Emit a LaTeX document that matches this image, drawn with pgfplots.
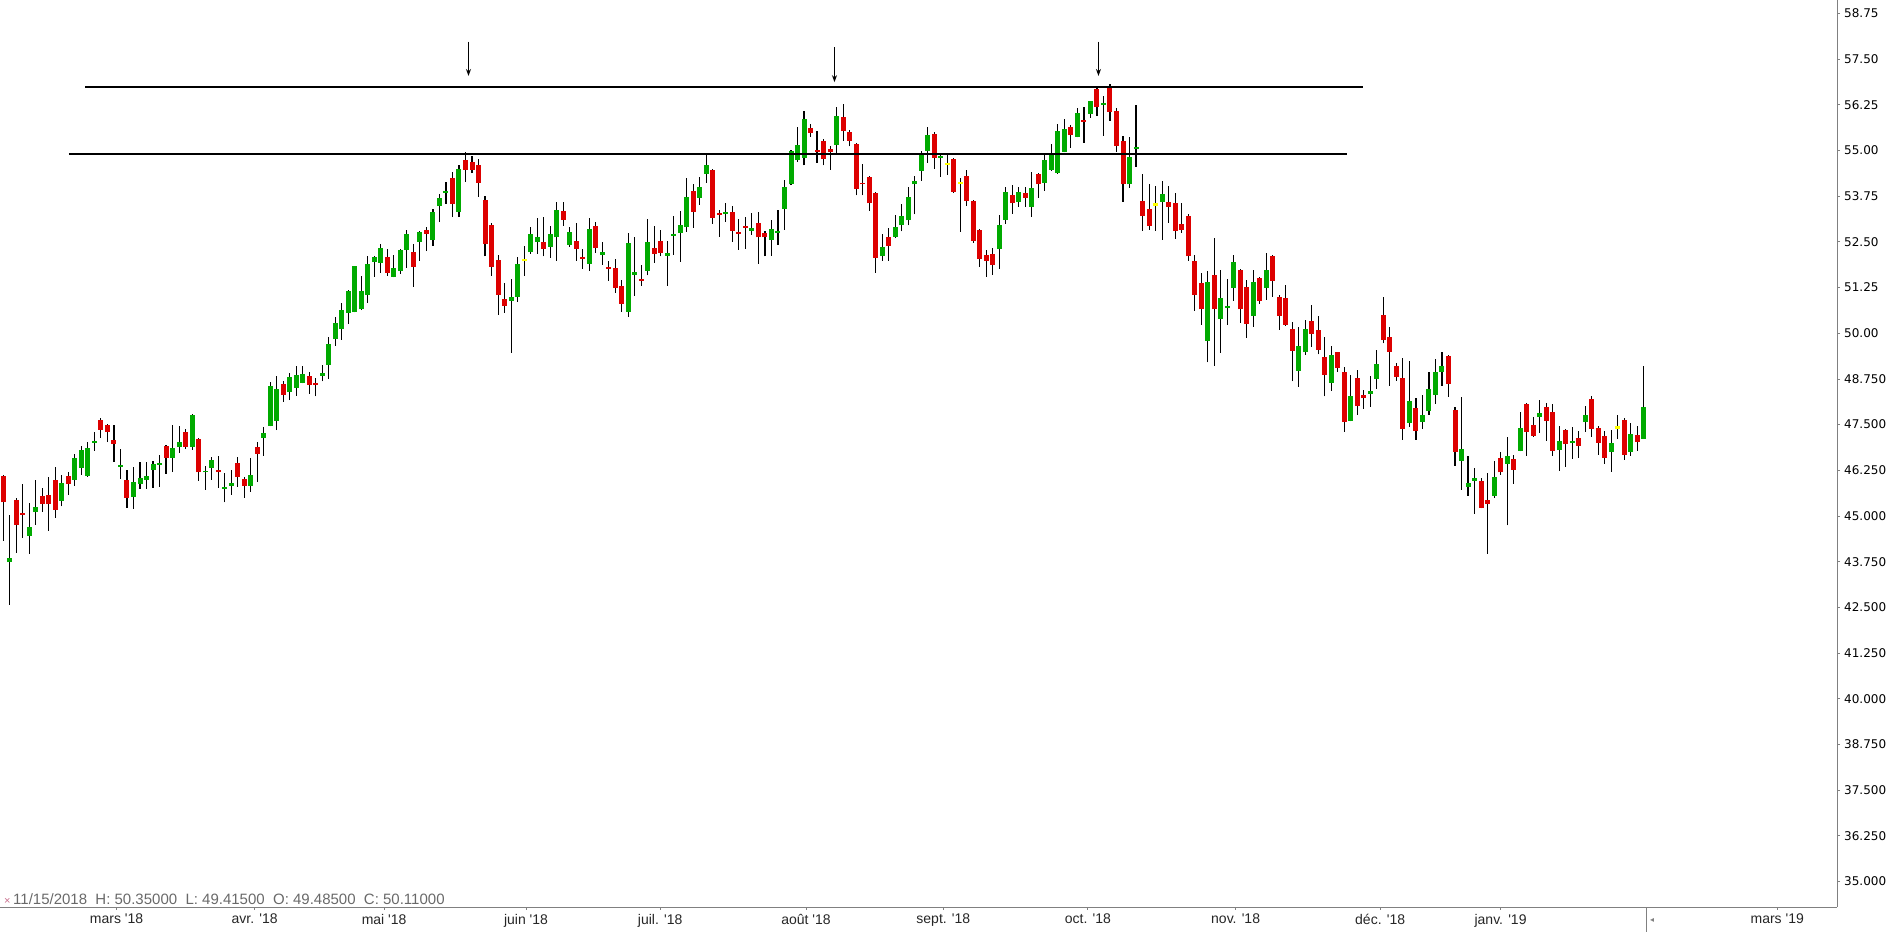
\documentclass[border=0pt]{standalone}
\usepackage{pgfplots}
\pgfplotsset{compat=1.18}
\usepackage{pgfplotstable}
\usepackage{fontspec}
\usetikzlibrary{arrows.meta}
\newfontfamily\dejavu{DejaVu Sans}
\newfontfamily\lib{Liberation Sans}
\definecolor{cgreen}{RGB}{0,170,0}
\definecolor{cred}{RGB}{221,0,0}
\definecolor{cyellow}{RGB}{255,255,0}
\definecolor{axgrey}{RGB}{128,128,128}
\definecolor{hovergrey}{RGB}{105,105,105}
\definecolor{xpink}{RGB}{200,110,140}

% k: 1 = up (green), -1 = down (red), 0 = doji (yellow)
\pgfplotstableread{
i o h l c k
0 46.09 46.12 44.32 45.37 -1
1 43.74 45.03 42.57 43.85 1
2 45.44 45.49 43.99 44.76 -1
3 45.08 45.87 44.41 45.03 -1
4 44.46 45.36 43.97 44.70 1
5 45.12 45.98 44.76 45.25 1
6 45.55 45.77 45.12 45.34 -1
7 45.57 46.06 44.60 45.34 -1
8 45.98 46.34 44.95 45.17 -1
9 45.42 46.12 45.26 45.90 1
10 46.09 46.20 45.58 45.88 -1
11 45.99 46.70 45.83 46.59 1
12 46.32 46.92 46.13 46.81 1
13 46.09 47.02 46.08 46.86 1
14 47.01 47.30 46.79 47.06 1
15 47.63 47.68 47.13 47.36 -1
16 47.49 47.52 47.02 47.30 -1
17 47.08 47.49 46.49 46.98 -1
18 46.34 46.83 46.02 46.39 1
19 45.98 46.26 45.23 45.50 -1
20 45.52 46.34 45.20 45.93 1
21 45.88 46.48 45.75 46.04 1
22 45.99 46.48 45.75 46.09 1
23 46.26 46.50 45.77 46.42 1
24 46.40 46.67 45.80 46.45 1
25 46.92 46.95 46.15 46.59 -1
26 46.59 47.49 46.20 46.86 1
27 46.89 47.46 46.73 47.02 1
28 47.30 47.38 46.83 46.89 -1
29 46.89 47.79 46.81 47.76 1
30 47.11 47.13 45.97 46.19 -1
31 46.19 46.37 45.72 46.23 1
32 46.31 46.61 45.99 46.53 1
33 46.26 46.64 45.77 46.20 -1
34 45.75 46.18 45.37 45.79 1
35 45.83 46.26 45.58 45.90 1
36 46.45 46.61 45.80 46.08 -1
37 46.01 46.07 45.50 45.83 -1
38 45.83 46.59 45.67 46.12 1
39 46.89 47.02 45.94 46.70 -1
40 47.14 47.44 46.65 47.27 1
41 47.47 48.67 47.45 48.56 1
42 47.61 48.83 47.35 48.48 1
43 48.61 48.70 48.12 48.32 -1
44 48.40 48.91 48.17 48.80 1
45 48.51 49.10 48.29 48.86 1
46 48.65 49.10 48.63 48.89 1
47 48.83 48.94 48.35 48.59 -1
48 48.64 48.77 48.27 48.59 -1
49 48.84 49.13 48.68 48.91 1
50 49.14 49.90 48.76 49.71 1
51 49.84 50.44 49.66 50.28 1
52 50.12 50.83 49.82 50.64 1
53 50.55 51.18 50.25 51.16 1
54 50.59 51.84 50.57 51.84 1
55 50.65 51.57 50.63 51.16 1
56 51.06 52.11 50.84 51.89 1
57 51.95 52.11 51.54 52.09 1
58 51.93 52.44 51.65 52.33 1
59 52.09 52.31 51.57 51.66 -1
60 51.55 52.14 51.53 51.79 1
61 51.71 52.30 51.63 52.28 1
62 52.28 52.83 51.79 52.72 1
63 52.22 52.44 51.27 51.82 -1
64 52.51 52.80 51.99 52.77 1
65 52.83 52.91 52.25 52.72 -1
66 52.55 53.40 52.40 53.32 1
67 53.48 53.81 53.04 53.70 1
68 53.84 54.14 53.54 53.89 1
69 54.25 54.41 53.18 53.54 -1
70 53.32 54.60 53.18 54.49 1
71 54.74 54.96 54.14 54.47 -1
72 54.69 54.85 54.38 54.47 -1
73 54.60 54.77 53.73 54.11 -1
74 53.65 53.76 52.10 52.45 -1
75 52.96 53.02 51.57 51.82 -1
76 52.00 52.14 50.51 51.06 -1
77 50.94 51.37 50.56 50.75 -1
78 50.89 51.48 49.47 50.99 1
79 51.00 52.09 50.86 51.89 1
80 52.00 52.39 51.57 52.00 0
81 52.23 52.91 52.18 52.72 1
82 52.51 53.15 52.18 52.63 1
83 52.50 53.18 52.10 52.31 -1
84 52.37 52.93 52.07 52.72 1
85 52.62 53.59 51.99 53.37 1
86 53.34 53.59 52.94 53.11 -1
87 52.42 52.91 52.37 52.77 1
88 52.52 53.02 51.99 52.31 -1
89 52.09 52.30 51.77 52.04 -1
90 51.90 53.15 51.71 52.85 1
91 52.93 53.04 52.20 52.34 -1
92 52.15 52.50 51.88 52.22 1
93 51.81 51.98 51.44 51.77 -1
94 51.79 52.03 51.11 51.25 -1
95 51.30 51.45 50.59 50.81 -1
96 50.59 52.74 50.45 52.47 1
97 51.60 52.63 51.03 51.68 1
98 51.48 51.87 51.30 51.44 -1
99 51.71 53.13 51.58 52.50 1
100 52.33 52.93 51.93 52.18 -1
101 52.52 52.82 52.10 52.20 -1
102 52.12 52.52 51.30 52.20 1
103 52.67 53.21 52.15 52.72 1
104 52.75 53.34 51.96 52.96 1
105 52.92 54.25 52.78 53.73 1
106 53.89 54.08 52.89 53.33 -1
107 53.71 54.28 53.52 54.00 1
108 54.37 54.89 54.12 54.60 1
109 54.47 54.49 53.00 53.16 -1
110 53.29 53.37 52.64 53.24 -1
111 53.27 53.56 53.05 53.32 1
112 53.32 53.48 52.50 52.81 -1
113 52.77 53.13 52.29 52.72 -1
114 52.93 53.18 52.31 52.89 -1
115 52.81 53.29 52.70 52.88 1
116 53.02 53.32 51.90 52.62 -1
117 52.74 52.80 52.10 52.62 -1
118 52.56 53.10 52.12 52.85 1
119 52.75 53.37 52.42 52.80 1
120 53.41 54.19 52.83 54.00 1
121 54.07 55.00 54.05 54.99 1
122 54.75 55.64 54.69 55.15 1
123 54.80 56.08 54.59 55.86 1
124 55.62 55.73 55.38 55.49 -1
125 55.00 55.53 54.67 54.96 -1
126 55.26 55.32 54.59 54.78 -1
127 55.04 55.12 54.48 54.97 -1
128 55.16 56.19 54.91 55.94 1
129 55.92 56.27 55.27 55.52 -1
130 55.51 55.56 55.11 55.27 -1
131 55.18 55.20 53.77 53.96 -1
132 54.11 54.63 53.77 54.07 -1
133 54.28 54.30 53.35 53.55 -1
134 53.84 53.86 51.66 52.07 -1
135 52.10 52.71 51.99 52.35 1
136 52.62 52.87 51.99 52.40 -1
137 52.64 53.24 52.60 52.91 1
138 52.95 53.54 52.79 53.21 1
139 53.09 54.00 52.95 53.73 1
140 54.07 54.30 53.25 54.17 1
141 54.45 54.99 54.17 54.90 1
142 54.99 55.64 54.67 55.42 1
143 55.45 55.51 54.50 54.80 -1
144 54.80 54.91 54.28 54.85 1
145 54.64 54.91 54.34 54.64 0
146 54.77 54.79 53.85 53.87 -1
147 54.11 54.25 52.78 54.11 0
148 54.30 54.47 53.49 53.62 -1
149 53.62 53.64 52.48 52.53 -1
150 52.83 52.85 51.82 52.04 -1
151 52.14 52.29 51.55 51.99 -1
152 52.16 52.32 51.60 51.88 -1
153 52.31 53.24 51.77 52.95 1
154 53.11 54.00 53.00 53.86 1
155 53.78 54.06 53.27 53.55 -1
156 53.60 54.00 53.46 53.86 1
157 53.84 54.00 53.46 53.71 -1
158 53.46 54.41 53.19 53.97 1
159 54.36 54.38 53.71 54.07 -1
160 54.12 54.89 53.90 54.74 1
161 54.48 55.18 54.45 54.88 1
162 54.39 55.73 54.37 55.53 1
163 54.97 55.86 54.95 55.59 1
164 55.64 55.70 55.07 55.42 -1
165 55.38 56.16 55.36 56.03 1
166 55.83 56.19 55.21 55.79 -1
167 56.01 56.35 55.90 56.35 1
168 56.68 56.70 55.95 56.20 -1
169 56.25 56.49 55.41 56.30 1
170 56.77 56.81 55.82 56.06 -1
171 56.08 56.15 54.96 55.13 -1
172 55.26 55.40 53.60 54.07 -1
173 54.07 55.37 53.98 54.82 1
174 55.05 56.24 54.56 55.10 1
175 53.62 54.36 52.81 53.22 -1
176 53.40 54.08 52.83 52.94 -1
177 53.52 54.03 52.81 53.52 0
178 53.60 54.16 52.56 53.81 1
179 53.59 54.03 53.03 53.46 -1
180 53.56 53.84 52.59 52.81 -1
181 52.99 53.56 52.75 52.83 -1
182 53.21 53.26 51.99 52.10 -1
183 51.98 52.14 50.62 51.06 -1
184 51.38 51.65 50.23 50.65 -1
185 49.80 51.70 49.20 51.40 1
186 51.59 52.61 49.11 50.65 -1
187 50.40 51.73 49.47 50.97 1
188 50.70 51.48 50.23 50.75 1
189 51.25 52.14 50.89 51.95 1
190 51.73 51.75 50.29 50.65 -1
191 51.27 51.46 49.88 50.26 -1
192 50.48 51.73 50.18 51.40 1
193 51.51 51.53 50.81 50.89 -1
194 51.25 52.20 50.92 51.73 1
195 52.11 52.13 51.00 51.44 -1
196 50.99 51.05 50.10 50.48 -1
197 50.97 51.32 50.21 50.23 -1
198 50.12 50.31 48.68 49.52 -1
199 48.98 50.17 48.54 49.65 1
200 49.485 50.35 49.415 50.11 1
201 50.34 50.77 49.63 49.99 -1
202 50.09 50.47 49.42 49.55 -1
203 49.35 49.90 48.27 48.87 -1
204 48.65 49.65 48.43 49.41 1
205 49.48 49.50 48.95 49.06 -1
206 48.94 49.07 47.30 47.58 -1
207 47.61 48.86 47.59 48.28 1
208 48.78 48.99 47.77 48.02 -1
209 48.31 48.45 47.94 48.24 -1
210 48.35 48.83 47.99 48.42 1
211 48.76 49.54 48.48 49.16 1
212 50.50 50.99 49.72 49.82 -1
213 49.90 50.17 48.57 49.50 -1
214 49.10 49.19 48.70 48.81 -1
215 48.78 49.32 47.09 47.39 -1
216 47.55 49.24 47.44 48.15 1
217 47.96 48.23 47.09 47.33 -1
218 47.58 48.31 47.39 47.76 1
219 47.86 48.94 47.77 48.47 1
220 48.32 49.30 48.07 48.94 1
221 48.94 49.49 48.57 49.10 1
222 49.38 49.41 48.26 48.62 -1
223 47.90 47.98 46.38 46.76 -1
224 46.51 48.26 45.72 46.83 1
225 45.80 46.64 45.56 45.89 1
226 45.97 46.31 45.06 46.04 1
227 45.96 46.04 45.21 45.23 -1
228 45.44 46.18 43.97 45.34 -1
229 45.56 46.51 45.50 46.07 1
230 46.59 46.75 46.13 46.19 -1
231 46.43 47.15 44.74 46.64 1
232 46.56 46.67 45.88 46.27 -1
233 46.79 47.85 46.77 47.41 1
234 48.06 48.08 46.65 47.31 -1
235 47.49 47.71 47.17 47.20 -1
236 47.72 48.17 47.28 47.82 1
237 47.98 48.09 47.06 47.61 -1
238 47.85 48.06 46.65 46.79 -1
239 46.81 47.47 46.24 47.05 1
240 47.35 47.37 46.35 46.98 -1
241 47.01 47.44 46.57 47.05 1
242 47.13 47.33 46.60 46.92 -1
243 47.58 48.01 47.31 47.76 1
244 48.20 48.28 47.17 47.39 -1
245 47.41 47.47 46.68 47.01 -1
246 47.19 47.33 46.43 46.60 -1
247 46.76 47.36 46.21 46.99 1
248 47.42 47.75 47.12 47.42 0
249 47.63 47.68 46.54 46.68 -1
250 46.76 47.54 46.65 47.24 1
251 47.21 47.46 46.79 47.03 -1
252 47.11 49.10 47.11 47.98 1
}\ohlc

\pgfplotsset{
  candle/.style={draw=none, mark=none, forget plot,
    error bars/.cd, y dir=plus, y explicit, error mark=none,
    error bar style={draw=#1, line width=5bp, line cap=butt}},
}

\begin{document}
\begin{tikzpicture}
\useasboundingbox (0,-25bp) rectangle (1897bp,907bp);
\begin{axis}[
  at={(0,0)}, anchor=south west,
  scale only axis, width=1837bp, height=907bp,
  xmin=-0.507, xmax=281.68, ymin=34.302, ymax=59.118,
  axis x line*=bottom, axis y line*=right,
  axis line style={axgrey, line width=1bp},
  tick align=outside, major tick length=3bp,
  tick style={axgrey, line width=0.8bp},
  ytick={35,36.25,37.5,38.75,40,41.25,42.5,43.75,45,46.25,47.5,48.75,50,51.25,52.5,53.75,55,56.25,57.5,58.75},
  yticklabels={35.000,36.250,37.500,38.750,40.000,41.250,42.500,43.750,45.000,46.250,47.500,48.750,50.00,51.25,52.50,53.75,55.00,56.25,57.50,58.75},
  yticklabel style={font=\dejavu\fontsize{12bp}{14bp}\selectfont, text=black, anchor=west, inner sep=0pt, xshift=4bp},
  xtick={17.4,38.6,58.5,80.3,100.9,123.3,144.4,166.6,189.3,211.5,230.0,272.5},
  xticklabels={mars \textquotesingle18, avr. \textquotesingle18, mai \textquotesingle18, juin \textquotesingle18, juil. \textquotesingle18, août \textquotesingle18, sept. \textquotesingle18, oct. \textquotesingle18, nov. \textquotesingle18, déc. \textquotesingle18, janv. \textquotesingle19, mars \textquotesingle19},
  xticklabel style={font=\lib\fontsize{14bp}{16bp}\selectfont, text=black!85, inner sep=0pt, anchor=north, yshift=-4bp},
  clip=false,
]
% wicks
\addplot[draw=none, mark=none, forget plot,
  error bars/.cd, y dir=plus, y explicit, error mark=none,
  error bar style={draw=black, line width=1.1bp}]
  table[x=i, y=l, y error plus expr=\thisrow{h}-\thisrow{l}] {\ohlc};
% green bodies (zero length where not an up day)
\addplot[candle=cgreen]
  table[x=i, y=o, y error plus expr={\thisrow{k}==1 ? \thisrow{c}-\thisrow{o} : 0}] {\ohlc};
% red bodies
\addplot[candle=cred]
  table[x=i, y=c, y error plus expr={\thisrow{k}==-1 ? \thisrow{o}-\thisrow{c} : 0}] {\ohlc};
% doji bodies
\addplot[candle=cyellow]
  table[x=i, y expr=\thisrow{o}-0.03, y error plus expr={\thisrow{k}==0 ? 0.06 : 0}] {\ohlc};
% resistance lines
\addplot[black, line width=2bp, forget plot] coordinates {(12.55,56.73) (208.9,56.73)};
\addplot[black, line width=2bp, forget plot] coordinates {(10.09,54.896) (206.4,54.896)};
% arrows
\addplot[black, line width=1.2bp, -{Stealth[length=7bp,width=5bp]}, forget plot] coordinates {(71.46,57.98) (71.46,57.04)};
\addplot[black, line width=1.2bp, -{Stealth[length=7bp,width=5bp]}, forget plot] coordinates {(127.68,57.83) (127.68,56.87)};
\addplot[black, line width=1.2bp, -{Stealth[length=7bp,width=5bp]}, forget plot] coordinates {(168.23,57.98) (168.23,57.04)};
\end{axis}
% hover readout
\node[anchor=base west, inner sep=0pt, text=xpink, font=\lib\fontsize{11bp}{12bp}\selectfont] at (4bp,3bp) {×};
\node[anchor=base west, inner sep=0pt, text=hovergrey, font=\lib\fontsize{15bp}{17bp}\selectfont] at (13bp,3bp) {11/15/2018\ \ H: 50.35000\ \ L: 49.41500\ \ O: 49.48500\ \ C: 50.11000};
% navigator marker
\draw[axgrey, line width=0.8bp] (1646bp,0) -- (1646bp,-25bp);
\node[inner sep=0pt, text=axgrey, font=\dejavu\fontsize{8bp}{9bp}\selectfont] at (1652bp,-13bp) {◂};
\end{tikzpicture}
\end{document}
